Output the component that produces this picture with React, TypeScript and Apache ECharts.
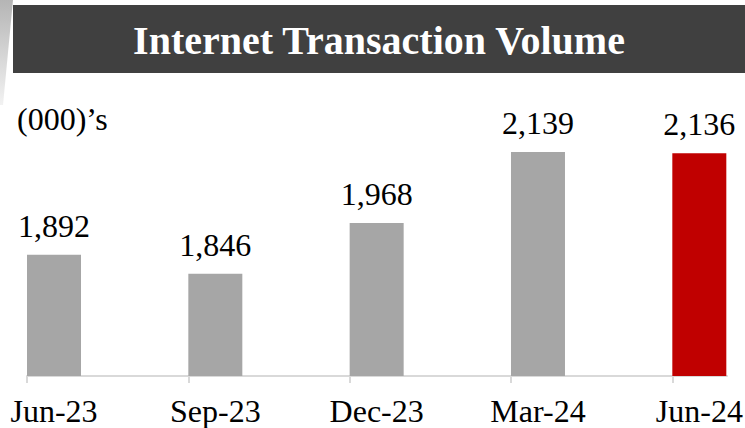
import React, { useEffect, useRef } from "react";
import * as echarts from "echarts";

const categories = ["Jun-23", "Sep-23", "Dec-23", "Mar-24", "Jun-24"];
const values = [1892, 1846, 1968, 2139, 2136];
const barColors = ["#a6a6a6", "#a6a6a6", "#a6a6a6", "#a6a6a6", "#c00000"];
const titleText = "Internet Transaction Volume";
const unitText = "(000)\u2019s";

const FONT = "'Liberation Serif', 'Times New Roman', serif";

export default function App() {
  const ref = useRef<HTMLDivElement>(null);
  useEffect(() => {
    if (!ref.current) return;
    const chart = echarts.init(ref.current, undefined, { renderer: "svg" });
    const pitch = 161.33;
    const barW = 54;
    const firstCenter = 54;
    const gridLeft = firstCenter - pitch / 2;
    const axisY = 376;
    const axisStart = firstCenter - barW / 2;
    const axisLen = 700;
    chart.setOption({
      animation: false,
      backgroundColor: "#ffffff",
      textStyle: { fontFamily: FONT },
      grid: [
        {
          left: gridLeft,
          width: pitch * categories.length,
          top: 126.6,
          height: axisY - 126.6,
          outerBoundsMode: "none",
          containLabel: false,
        },
        {
          left: axisStart,
          width: axisLen,
          top: 126.6,
          height: axisY - 126.6,
          outerBoundsMode: "none",
          containLabel: false,
        },
      ],
      xAxis: [
        {
          type: "category",
          gridIndex: 0,
          data: categories,
          axisLine: { show: false },
          axisTick: { show: false },
          axisLabel: { color: "#000", fontSize: 32, lineHeight: 30, fontFamily: FONT, margin: 20 },
        },
        {
          type: "value",
          gridIndex: 1,
          min: 0,
          max: axisLen,
          interval: axisLen,
          axisLine: { show: true, lineStyle: { color: "#d9d9d9", width: 2 } },
          axisTick: {
            show: true,
            length: 7,
            lineStyle: { color: "#d9d9d9", width: 2 },
            customValues: categories.map((_, i) => i * pitch),
          },
          axisLabel: { show: false },
          splitLine: { show: false },
        },
      ],
      yAxis: [
        { type: "value", gridIndex: 0, min: 1600, max: 2200, show: false, splitLine: { show: false } },
        { type: "value", gridIndex: 1, min: 0, max: 1, show: false, splitLine: { show: false } },
      ],
      series: [
        {
          type: "bar",
          xAxisIndex: 0,
          yAxisIndex: 0,
          barWidth: barW,
          data: values.map((v, i) => ({ value: v, itemStyle: { color: barColors[i] } })),
          label: {
            show: true,
            position: "top",
            distance: 13,
            color: "#000",
            fontSize: 32,
            fontFamily: FONT,
            formatter: (p: any) => Number(p.value).toLocaleString("en-US"),
          },
        },
      ],
      graphic: [
        {
          type: "polygon",
          shape: { points: [[0, 0], [13, 0], [3, 105], [0, 105]] },
          style: {
            fill: new echarts.graphic.LinearGradient(0, 0, 0, 1, [
              { offset: 0, color: "#b5b5b5" },
              { offset: 1, color: "#f2f2f2" },
            ]),
          },
        },
        {
          type: "rect",
          shape: { x: 13, y: 5, width: 732, height: 68 },
          style: { fill: "#404040" },
        },
        {
          type: "text",
          x: 379,
          y: 40,
          style: {
            text: titleText,
            fill: "#ffffff",
            font: `bold 40px ${FONT}`,
            align: "center",
            verticalAlign: "middle",
          },
        },
        {
          type: "text",
          x: 17,
          y: 119,
          style: {
            text: unitText,
            fill: "#000",
            font: `32px ${FONT}`,
            align: "left",
            verticalAlign: "middle",
          },
        },
      ],
    });
    return () => chart.dispose();
  }, []);
  return (
    <div
      ref={ref}
      style={{ position: "absolute", left: 0, top: 0, width: 745, height: 428 }}
    />
  );
}
